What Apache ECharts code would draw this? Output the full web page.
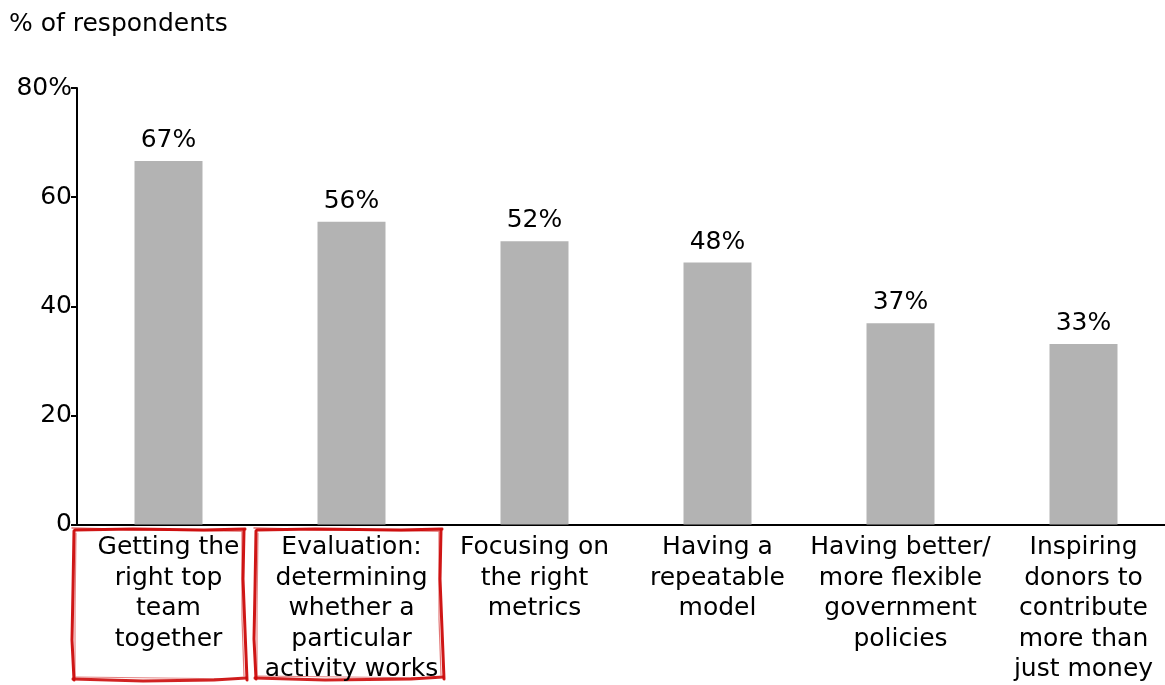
<!DOCTYPE html>
<html>
<head>
<meta charset="utf-8">
<script src="https://cdn.jsdelivr.net/npm/echarts@6/dist/echarts.min.js"></script>
<style>html,body{margin:0;padding:0;background:#fff;overflow:hidden;}#c{width:1185px;height:685px;}</style>
</head>
<body>
<div id="c"></div>
<script>
const categories = [
  "Getting the\nright top\nteam\ntogether",
  "Evaluation:\ndetermining\nwhether a\nparticular\nactivity works",
  "Focusing on\nthe right\nmetrics",
  "Having a\nrepeatable\nmodel",
  "Having better/\nmore flexible\ngovernment\npolicies",
  "Inspiring\ndonors to\ncontribute\nmore than\njust money"
];
const values = [66.6, 55.5, 51.9, 48.0, 36.9, 33.1];
const yTicks = [0, 20, 40, 60, 80];
const yTopLabel = "80%";
const yTitle = "% of respondents";

const FONT = "'DejaVu Sans', sans-serif";
const FS = 25;
const chart = echarts.init(document.getElementById('c'));

function wobble(pts, color, w, op) {
  return {
    type: 'polyline',
    silent: true,
    shape: { points: pts },
    style: { stroke: color, lineWidth: w, fill: null, opacity: op, lineCap: 'round', lineJoin: 'round' }
  };
}
function sketchBox(x1, y1, x2, y2) {
  const c = '#cc0a0a';
  return [
    wobble([[x1+2, y1+1],[x1+60, y1],[x2-40, y1+1],[x2+1, y1]], c, 3, 0.95),
    wobble([[x1-1, y1-1],[x1+80, y1+1],[x2-2, y1+2]], c, 1.5, 0.6),
    wobble([[x1+1, y1+2],[x1, y1+60],[x1-1, y2-40],[x1+1, y2]], c, 3, 0.95),
    wobble([[x1+3, y1+4],[x1+2, y1+80],[x1+2, y2-2]], c, 1.2, 0.5),
    wobble([[x1, y2-1],[x1+70, y2+1],[x2-30, y2],[x2+2, y2-2]], c, 3, 0.9),
    wobble([[x1+3, y2-3],[x1+90, y2-2],[x2-5, y2-1]], c, 1.2, 0.5),
    wobble([[x2, y1+1],[x2-1, y1+50],[x2+1, y2-50],[x2+3, y2]], c, 3, 0.95),
    wobble([[x2-2, y1+3],[x2-2, y1+90],[x2, y2-4]], c, 1.2, 0.55)
  ];
}

const option = {
  backgroundColor: '#fff',
  animation: false,
  textStyle: { fontFamily: FONT },
  title: {
    text: yTitle, left: 4, top: 7,
    textStyle: { fontFamily: FONT, fontSize: FS, fontWeight: 'normal', color: '#000' }
  },
  grid: { left: 77, right: 10, top: 88, bottom: 160, containLabel: false },
  xAxis: {
    type: 'category',
    data: categories,
    axisLine: { show: true, lineStyle: { color: '#000', width: 2 } },
    axisTick: { show: false },
    axisLabel: {
      interval: 0, margin: 8, color: '#000', fontSize: FS, lineHeight: 30.5,
      fontFamily: FONT, align: 'center', verticalAlign: 'top'
    }
  },
  yAxis: {
    type: 'value', min: 0, max: 80, interval: 20,
    splitLine: { show: false },
    axisLine: { show: true, lineStyle: { color: '#000', width: 2 } },
    axisTick: { show: true, length: 6, lineStyle: { color: '#000', width: 2 } },
    axisLabel: {
      margin: 5, color: '#000', fontSize: FS, fontFamily: FONT,
      formatter: v => (v === yTicks[yTicks.length - 1] ? yTopLabel : String(v))
    }
  },
  series: [{
    type: 'bar',
    data: values,
    barWidth: 68,
    itemStyle: { color: '#b3b3b3' },
    label: {
      show: true, position: 'top', distance: 8, color: '#000', fontSize: FS, fontFamily: FONT,
      formatter: p => Math.round(p.value) + '%'
    }
  }],
  graphic: [
    ...sketchBox(73, 529, 244, 680),
    ...sketchBox(255, 529, 441, 679)
  ]
};
chart.setOption(option);
</script>
</body>
</html>
